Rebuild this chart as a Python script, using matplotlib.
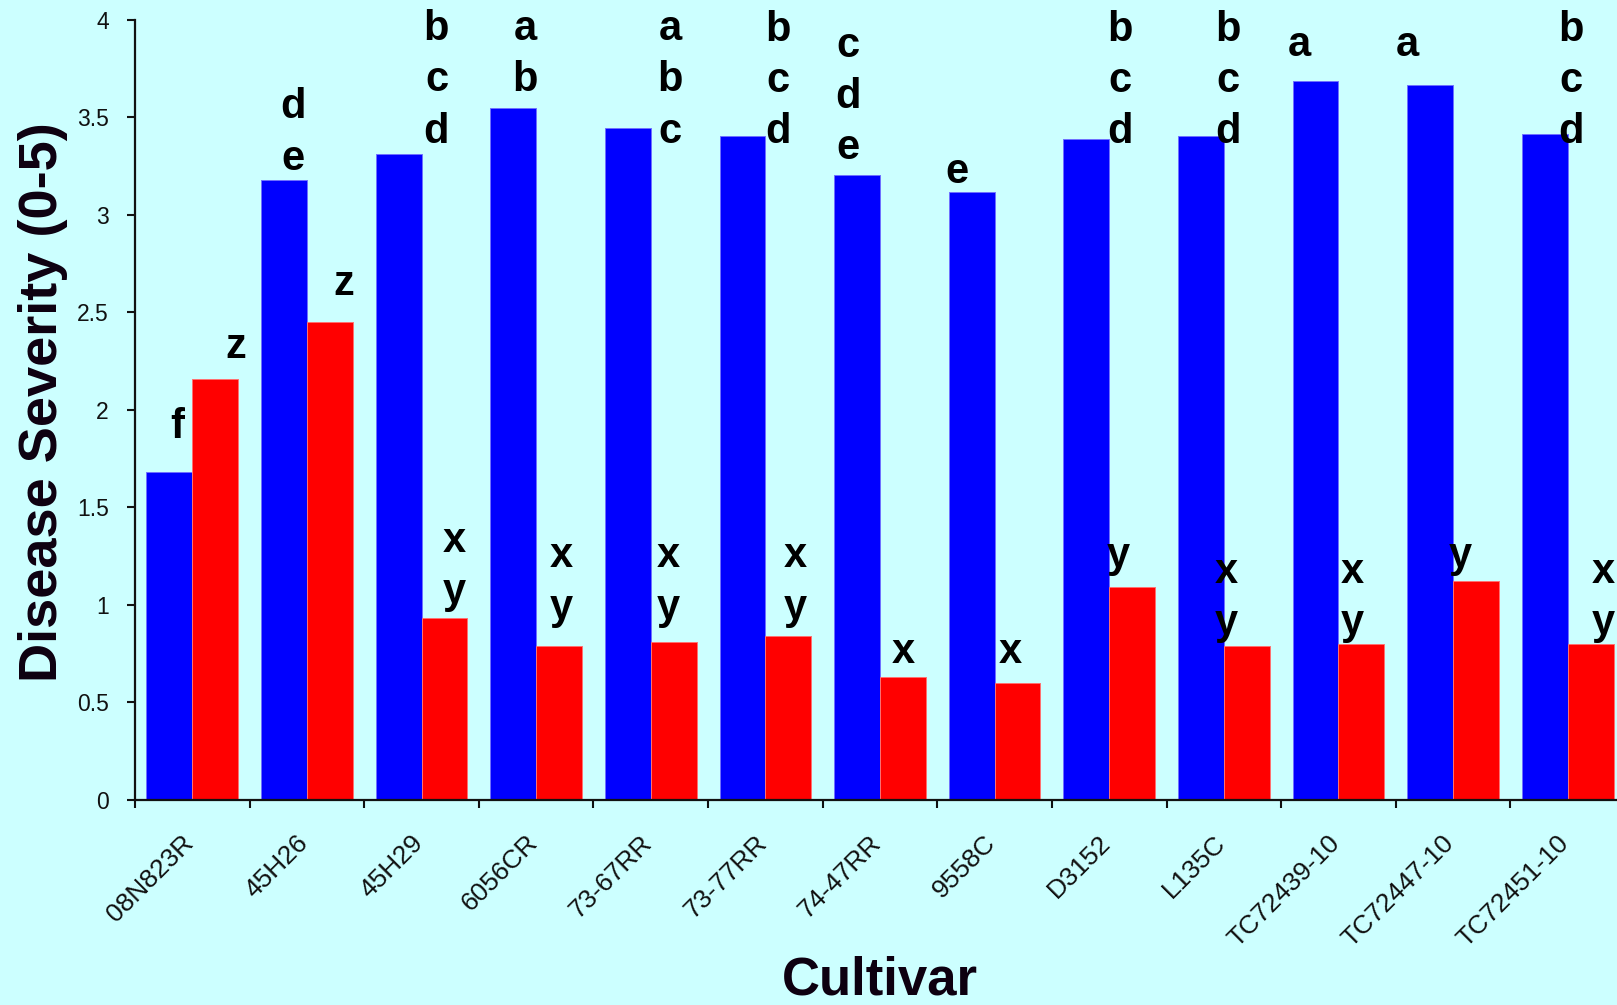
import matplotlib
matplotlib.use("Agg")
import matplotlib.pyplot as plt
import matplotlib.transforms as mtransforms
import numpy as np

plt.rcParams['font.family'] = ['Liberation Sans', 'DejaVu Sans']

# ---------------- data ----------------
cultivars = ["08N823R", "45H26", "45H29", "6056CR", "73-67RR", "73-77RR",
             "74-47RR", "9558C", "D3152", "L135C", "TC72439-10",
             "TC72447-10", "TC72451-10"]
severity_blue = [1.68, 3.18, 3.31, 3.545, 3.445, 3.405, 3.205, 3.115,
                 3.39, 3.405, 3.685, 3.665, 3.415]
severity_red = [2.16, 2.45, 0.935, 0.79, 0.81, 0.84, 0.63, 0.60,
                1.09, 0.79, 0.80, 1.12, 0.80]
letters_blue = ["f", "de", "bcd", "ab", "abc", "bcd", "cde", "e",
                "bcd", "bcd", "a", "a", "bcd"]
letters_red = ["z", "z", "xy", "xy", "xy", "xy", "x", "x",
               "y", "xy", "xy", "y", "xy"]
yticks = [0, 0.5, 1, 1.5, 2, 2.5, 3, 3.5, 4]
ytick_labels = ["0", "0.5", "1", "1.5", "2", "2.5", "3", "3.5", "4"]

# ---------------- letter placement (layout) ----------------
blue_letter_dx = [-0.13, -0.12, 0.13, -0.095, 0.17, 0.11, -0.28, -0.33,
                  0.09, 0.035, -0.345, -0.40, 0.03]
blue_letter_top = [1.855, 3.494, 3.895, 3.895, 3.895, 3.892, 3.810, 3.161,
                   3.892, 3.892, 3.813, 3.813, 3.892]
red_letter_dx = [0.38, 0.32, 0.285, 0.22, 0.15, 0.26, 0.20, 0.14,
                 0.08, 0.02, 0.12, 0.06, 0.31]
red_letter_top = [2.266, 2.588, 1.273, 1.192, 1.192, 1.192, 0.701, 0.701,
                  1.192, 1.112, 1.112, 1.192, 1.112]
line_step = 0.263

BG = '#CCFFFF'
BLUE = '#0000FF'
RED = '#FF0000'

fig = plt.figure(figsize=(16.17, 10.05), dpi=100, facecolor=BG)
ax = fig.add_axes([135 / 1617, (1005 - 800) / 1005, 1490 / 1617, 780.4 / 1005])
ax.set_facecolor(BG)

x = np.arange(len(cultivars))
w = 0.4
ax.bar(x - w / 2, severity_blue, width=w, color=BLUE, edgecolor='#7070ff',
       linewidth=0.7, zorder=2)
ax.bar(x + w / 2, severity_red, width=w, color=RED, edgecolor='#ff7070',
       linewidth=0.7, zorder=2)

for i in range(len(cultivars)):
    for k, ch in enumerate(letters_blue[i]):
        ax.text(x[i] + blue_letter_dx[i], blue_letter_top[i] - k * line_step, ch,
                ha='center', va='baseline', fontsize=30, fontweight='bold',
                color='black', zorder=3, clip_on=False)
    for k, ch in enumerate(letters_red[i]):
        ax.text(x[i] + red_letter_dx[i], red_letter_top[i] - k * line_step, ch,
                ha='center', va='baseline', fontsize=30, fontweight='bold',
                color='black', zorder=3, clip_on=False)

ax.set_xlim(-0.5, len(cultivars) - 0.5)
ax.set_ylim(0, 4)

for s in ['top', 'right']:
    ax.spines[s].set_visible(False)
for s in ['left', 'bottom']:
    ax.spines[s].set_linewidth(1.6)
    ax.spines[s].set_color('#111111')

ax.set_yticks(yticks)
ax.set_yticklabels(ytick_labels)
ax.tick_params(axis='y', direction='out', length=5.8, width=1.5,
               labelsize=16.5, pad=13, colors='#111111')

ax.set_xticks(x)
ax.set_xticklabels(cultivars, rotation=45, ha='right', va='top')
ax.set_xticks(np.arange(len(cultivars) + 1) - 0.5, minor=True)
ax.tick_params(axis='x', which='major', length=0, labelsize=19, pad=22,
               colors='#111111')
ax.tick_params(axis='x', which='minor', direction='out', length=5.8, width=1.5,
               colors='#111111')
offset = mtransforms.ScaledTranslation(6 / 100, 0, fig.dpi_scale_trans)
for lbl in ax.get_xticklabels():
    lbl.set_transform(lbl.get_transform() + offset)

ax.set_ylabel('Disease Severity (0-5)', fontsize=39, fontweight='bold',
              color='#0d0010')
ax.yaxis.set_label_coords(-0.045, 0.51)

fig.text(880 / 1617, 0.0, 'Cultivar', ha='center', va='bottom',
         fontsize=38, fontweight='bold', color='#0d0010')

fig.savefig('out.png', dpi=100, facecolor=BG)
